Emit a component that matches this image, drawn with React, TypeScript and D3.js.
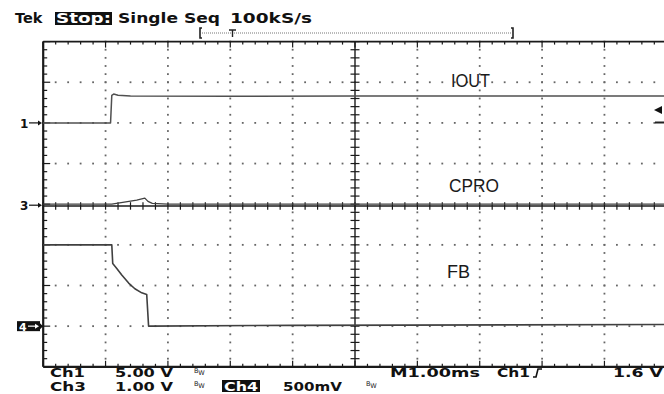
import React from 'react';
import * as d3 from 'd3';

// timebase M 1.00ms/div, 10 horizontal divisions, 8 vertical divisions
const timeDivs = d3.range(0, 11);
const voltDivs = d3.range(-4, 5);

// IOUT  (Ch1, 5.00 V/div, ground marker at +2 div)
const ioutTime = [0, 1.08, 1.1, 1.13, 1.2, 1.4, 3, 5, 7, 10];
const ioutVolts = [0, 0, 3.4, 3.55, 3.4, 3.3, 3.28, 3.3, 3.3, 3.32];

// CPRO  (Ch3, 1.00 V/div, ground marker at 0 div)
const cproTime = [0, 1.1, 1.3, 1.5, 1.63, 1.68, 1.75, 2, 10];
const cproVolts = [0, 0, 0.05, 0.1, 0.15, 0.07, 0.02, 0, 0];

// FB  (Ch4, 500 mV/div, ground marker at -3 div)
const fbTime = [0, 1.1, 1.115, 1.18, 1.26, 1.37, 1.47, 1.58, 1.66, 1.69, 1.72, 4, 10];
const fbVolts = [1.0, 1.0, 0.77, 0.71, 0.63, 0.53, 0.46, 0.41, 0.39, 0.0, 0.0, 0.01, 0.02];

const traceNames = ['IOUT', 'CPRO', 'FB'];
const voltsPerDiv = [5, 1, 0.5];
const groundDiv = [2, 0, -3];
const markerLabels = ['1', '3', '4'];

const headerText = ['Tek', 'Stop:', 'Single Seq', '100kS/s'];
const statusRow1 = ['Ch1', '5.00 V', 'M1.00ms', 'Ch1', '1.6 V'];
const statusRow2 = ['Ch3', '1.00 V', 'Ch4', '500mV'];

const W = 664;
const H = 394;

const App: React.FC = () => {
  const x = d3.scaleLinear().domain([0, 10]).range([43.2, 666.8]);
  const y = d3.scaleLinear().domain([-4, 4]).range([366.8, 41.6]);
  const minor = d3.range(0, 10.001, 0.2);
  const minorV = d3.range(-4, 4.001, 0.2);

  const series = [
    { t: ioutTime, v: ioutVolts },
    { t: cproTime, v: cproVolts },
    { t: fbTime, v: fbVolts },
  ];

  const line = (k: number) =>
    d3
      .line<number>()
      .x((_, i) => x(series[k].t[i]))
      .y((d) => y(groundDiv[k] + d / voltsPerDiv[k]))(series[k].v) || '';

  const gridColor = '#1a1a1a';
  const mono = 'DejaVu Sans';
  const isMajor = (d: number) => Math.abs(d - Math.round(d)) < 1e-6;

  // dotted division lines (not border, not centre)
  const dots: [number, number][] = [];
  timeDivs
    .filter((d) => d !== 0 && d !== 5 && d !== 10)
    .forEach((d) => minorV.forEach((v) => dots.push([x(d), y(v)])));
  voltDivs
    .filter((v) => v !== -4 && v !== 0 && v !== 4)
    .forEach((v) => minor.forEach((d) => dots.push([x(d), y(v)])));

  const bw = (px: number, py: number, key: string) => (
    <text key={key} x={px} y={py} fontFamily={mono} fontSize={6.5} fill="#222">
      B<tspan dy={2}>W</tspan>
    </text>
  );

  const r1 = 377;
  const r2 = 391;

  return (
    <svg
      width={W}
      height={H}
      style={{ position: 'absolute', left: 0, top: 0, background: '#fff' }}
    >
      <rect width={W} height={H} fill="#fff" />

      {/* header */}
      <g fontFamily={mono} fontWeight="bold" fontSize={14.5} fill="#111">
        <text x={15} y={23}>
          {headerText[0]}
        </text>
        <rect x={55} y={12} width={57} height={13} fill="#111" />
        <text x={56} y={23} fill="#fff" textLength={55} lengthAdjust="spacingAndGlyphs">
          {headerText[1]}
        </text>
        <text x={118} y={23} textLength={102} lengthAdjust="spacingAndGlyphs">
          {headerText[2]}
        </text>
        <text x={230} y={23} textLength={82} lengthAdjust="spacingAndGlyphs">
          {headerText[3]}
        </text>
      </g>

      {/* record bar */}
      <g stroke="#222" fill="none">
        <path d="M202,28 h-2 v10 h2" strokeWidth={1.6} />
        <path d="M511,28 h2 v10 h-2" strokeWidth={1.6} />
        <line x1={202} x2={511} y1={33} y2={33} strokeDasharray="1 1" strokeWidth={1} stroke="#777" />
        <path d="M229,30 h7 M232.5,30 v7" strokeWidth={1.4} />
      </g>

      {/* dotted grid */}
      <g fill="#666">
        {dots.map(([px, py], i) => (
          <rect key={i} x={px - 0.9} y={py - 0.9} width={1.8} height={1.8} />
        ))}
      </g>

      {/* borders */}
      <g stroke={gridColor} fill="none">
        <line x1={x(0)} x2={x(0)} y1={y(4)} y2={y(-4)} strokeWidth={2.2} />
        <line x1={x(0)} x2={W} y1={y(4)} y2={y(4)} strokeWidth={1.6} />
        <line x1={x(0)} x2={W} y1={y(-4)} y2={y(-4)} strokeWidth={2.2} />
        {/* centre lines */}
        <line x1={x(5)} x2={x(5)} y1={y(4)} y2={y(-4)} strokeWidth={1.4} />
        <line x1={x(0)} x2={W} y1={y(0) + 1.8} y2={y(0) + 1.8} strokeWidth={1.4} />
        {minor.map((d, i) => (
          <g key={'h' + i} strokeWidth={1.2}>
            <line x1={x(d)} x2={x(d)} y1={y(4)} y2={y(4) + (isMajor(d) ? 6 : 3)} />
            <line x1={x(d)} x2={x(d)} y1={y(-4)} y2={y(-4) - (isMajor(d) ? 6 : 3)} />
            <line x1={x(d)} x2={x(d)} y1={y(0) - 2} y2={y(0) + 5.5} />
          </g>
        ))}
        {minorV.map((v, i) => (
          <g key={'v' + i} strokeWidth={1.2}>
            <line x1={x(0)} x2={x(0) + (isMajor(v) ? 7 : 4)} y1={y(v)} y2={y(v)} />
            <line x1={x(5) - 4.5} x2={x(5) + 4.5} y1={y(v)} y2={y(v)} />
          </g>
        ))}
      </g>

      {/* traces */}
      <g fill="none" strokeLinejoin="round">
        <path d={line(0)} stroke="#505050" strokeWidth={1.5} />
        <path d={line(1)} stroke="#404040" strokeWidth={1.3} />
        <path d={line(2)} stroke="#404040" strokeWidth={1.6} />
      </g>

      {/* trace names */}
      <g fontFamily="Liberation Sans, Arial, sans-serif" fontSize={19} fill="#1a1a1a">
        <text x={451} y={86.5} textLength={39} lengthAdjust="spacingAndGlyphs">
          {traceNames[0]}
        </text>
        <text x={449} y={192} textLength={50} lengthAdjust="spacingAndGlyphs">
          {traceNames[1]}
        </text>
        <text x={447} y={278} textLength={23} lengthAdjust="spacingAndGlyphs">
          {traceNames[2]}
        </text>
      </g>

      {/* ground markers */}
      <g fontFamily={mono} fontWeight="bold" fontSize={12}>
        {[0, 1].map((k) => {
          const gy = y(groundDiv[k]) + (k === 1 ? 1 : 0);
          return (
            <g key={k}>
              <text x={20} y={gy + 5} fill="#111">
                {markerLabels[k]}
              </text>
              <line x1={29} x2={39} y1={gy} y2={gy} stroke="#111" strokeWidth={1.2} />
              <path d={`M38,${gy - 2.5} l4,2.5 l-4,2.5 z`} fill="#111" />
            </g>
          );
        })}
        <rect x={17} y={y(groundDiv[2]) - 5} width={23} height={10} fill="#111" />
        <text x={19} y={y(groundDiv[2]) + 4.5} fill="#fff" fontSize={11}>
          {markerLabels[2]}
        </text>
        <line x1={28} x2={35} y1={y(groundDiv[2])} y2={y(groundDiv[2])} stroke="#fff" strokeWidth={1.2} />
        <path d={`M35,${y(groundDiv[2]) - 2.5} l4,2.5 l-4,2.5 z`} fill="#fff" />
        <path d={`M40,${y(groundDiv[2]) - 3} l3,3 l-3,3 z`} fill="#111" />
      </g>

      {/* trigger level marker on right */}
      <path d="M654,110 l8,-4 v8 z" fill="#111" />
      <line x1={655} x2={W} y1={122.5} y2={122.5} stroke="#222" strokeWidth={2} />

      {/* status readout */}
      <g fontFamily={mono} fontWeight="bold" fontSize={12.5} fill="#111">
        <text x={50} y={r1} textLength={35} lengthAdjust="spacingAndGlyphs">
          {statusRow1[0]}
        </text>
        <text x={115} y={r1} textLength={58} lengthAdjust="spacingAndGlyphs">
          {statusRow1[1]}
        </text>
        <text x={390} y={r1} textLength={90} lengthAdjust="spacingAndGlyphs">
          {statusRow1[2]}
        </text>
        <text x={497} y={r1} textLength={33} lengthAdjust="spacingAndGlyphs">
          {statusRow1[3]}
        </text>
        <text x={613} y={r1} textLength={50} lengthAdjust="spacingAndGlyphs">
          {statusRow1[4]}
        </text>
        <text x={50} y={r2} textLength={36} lengthAdjust="spacingAndGlyphs">
          {statusRow2[0]}
        </text>
        <text x={115} y={r2} textLength={58} lengthAdjust="spacingAndGlyphs">
          {statusRow2[1]}
        </text>
        <rect x={222} y={380} width={38} height={12} fill="#111" />
        <text x={224} y={r2} fill="#fff" textLength={34} lengthAdjust="spacingAndGlyphs">
          {statusRow2[2]}
        </text>
        <text x={283} y={r2} textLength={59} lengthAdjust="spacingAndGlyphs">
          {statusRow2[3]}
        </text>
      </g>
      <path d="M533,377 h3 l2,-8 h4" stroke="#111" strokeWidth={1.6} fill="none" />
      {bw(194, 373, 'b1')}
      {bw(194, 386, 'b2')}
      {bw(366, 386, 'b3')}
    </svg>
  );
};

export default App;
